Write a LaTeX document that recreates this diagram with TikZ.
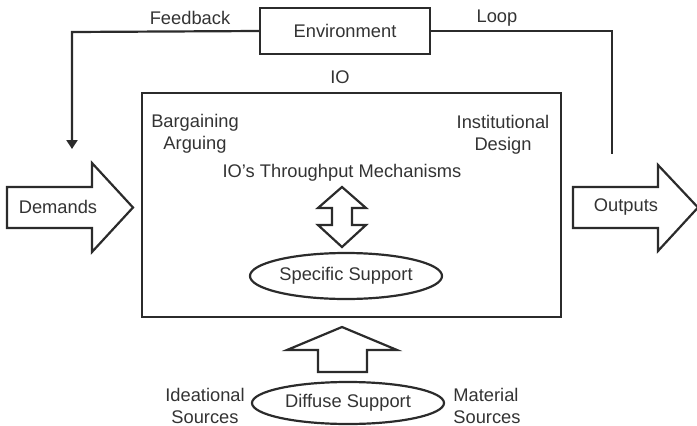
\documentclass[tikz,border=0pt]{standalone}
\usepackage{fontspec}
\setmainfont{Liberation Sans}
\usetikzlibrary{arrows.meta,shapes.geometric}
\definecolor{ink}{HTML}{2B2B2B}
\definecolor{txt}{HTML}{333333}
\begin{document}
\begin{tikzpicture}[x=1pt,y=-1pt,
  every node/.style={text=txt,font=\fontsize{18.3}{22}\selectfont},
  lbl/.style={inner sep=0pt,align=center},
  box/.style={draw=ink,line width=2.2pt},
  conn/.style={draw=ink,line width=2.2pt},
  oval/.style={draw=ink,line width=2.2pt,ellipse,inner sep=0pt},
  blockarrow/.style={draw=ink,line width=2.2pt,line join=miter,fill=white}]
\useasboundingbox (0,0) rectangle (697,426);
% Environment and loop
\node[box,minimum width=170pt,minimum height=46pt,inner sep=0pt] (env) at (345,31) {Environment};
\coordinate (fbcorner) at (72,32);
\coordinate (fbtip) at (72,149);
\coordinate (loopend) at (612,154);
\draw[conn,-{Triangle[length=9pt,width=11pt]}] (env.west) -- (fbcorner) -- (fbtip);
\draw[conn] (env.east) -| (loopend);
\node[lbl] (fb) at (190,18) {Feedback};
\node[lbl] (loop) at (497,18) {Loop};
% IO box
\node[lbl] (io) at (340,77) {IO};
\node[box,minimum width=419pt,minimum height=224pt,inner sep=0pt] (iobox) at (351.5,205) {};
\node[lbl] (barg) at (195,134) {Bargaining\\Arguing};
\node[lbl] (inst) at (503,135) {Institutional\\Design};
\node[lbl] (thru) at (342,173) {IO's Throughput Mechanisms};
% double arrow
\draw[blockarrow] (342,187) -- (366,208) -- (352,208) -- (352,225) -- (366,225) -- (342,247)
  -- (318,225) -- (332,225) -- (332,208) -- (318,208) -- cycle;
% Specific support
\node[oval,minimum width=192pt,minimum height=46pt] (spec) at (346,276) {Specific Support};
% Up arrow
\draw[blockarrow] (342,327) -- (397,350) -- (367,350) -- (367,372) -- (318,372) -- (318,350) -- (287,350) -- cycle;
% Diffuse support
\node[oval,minimum width=192pt,minimum height=42pt] (diff) at (348,403) {Diffuse Support};
\node[lbl] (idea) at (205,406) {Ideational\\Sources};
\node[lbl,align=left] (mat) at (487,406) {Material\\Sources};
% Demands
\draw[blockarrow] (7,187) -- (92,187) -- (92,163) -- (133,207.5) -- (92,252) -- (92,228) -- (7,228) -- cycle;
\node[lbl] (dem) at (58,207) {Demands};
% Outputs
\draw[blockarrow] (573,187) -- (658,187) -- (658,165) -- (698,207.5) -- (658,251) -- (658,228) -- (573,228) -- cycle;
\node[lbl] (out) at (626,207) {Outputs};
\end{tikzpicture}
\end{document}
